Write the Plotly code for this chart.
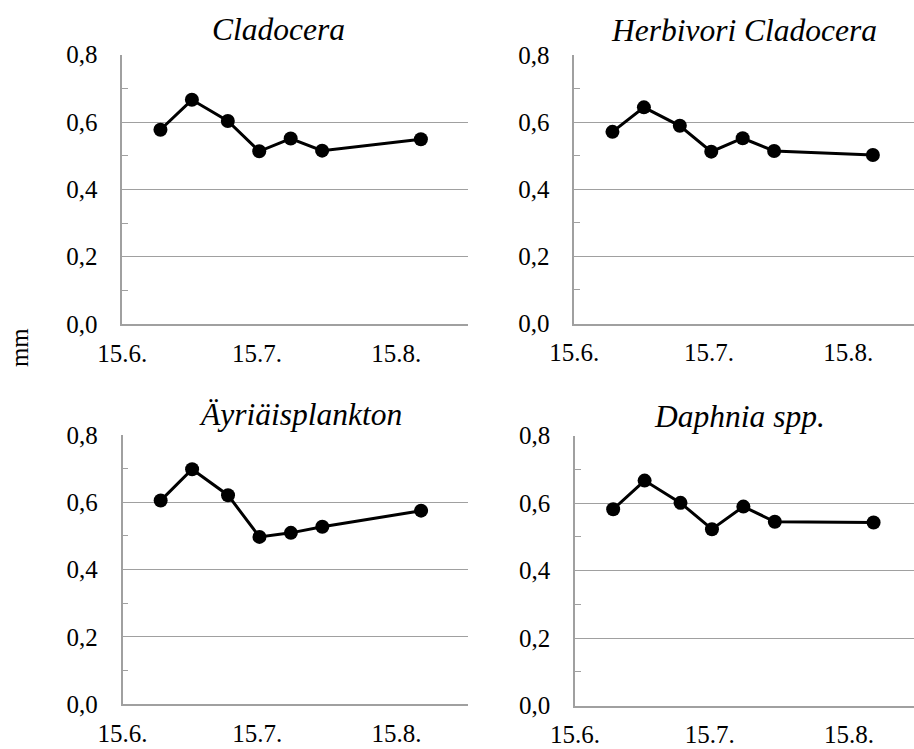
import plotly.graph_objects as go
import pandas as pd

W, H = 914, 749

# Sampling dates (points sit mid-day on the date axis)
dates = ["2011-06-23 12:00", "2011-06-30 12:00", "2011-07-08 12:00", "2011-07-15 12:00",
         "2011-07-22 12:00", "2011-07-29 12:00", "2011-08-20 12:00"]

cladocera = [0.577, 0.666, 0.603, 0.513, 0.551, 0.515, 0.549]
herbivori = [0.571, 0.644, 0.589, 0.512, 0.552, 0.514, 0.502]
ayriais = [0.605, 0.698, 0.621, 0.497, 0.509, 0.527, 0.575]
daphnia = [0.582, 0.667, 0.601, 0.523, 0.590, 0.545, 0.543]

titles = ["Cladocera", "Herbivori Cladocera", "Äyriäisplankton", "Daphnia spp."]
series = [cladocera, herbivori, ayriais, daphnia]

tick_vals = ["2011-06-15", "2011-07-15", "2011-08-15"]
tick_text = ["15.6.", "15.7.", "15.8."]
y_ticks = [0.0, 0.2, 0.4, 0.6, 0.8]

FONT = "'Liberation Serif', 'Times New Roman', 'DejaVu Serif', serif"
GRID = "#A0A0A0"

# panel pixel boxes: (left, right, top, bottom)
boxes = [(122.3, 467.7, 54.7, 324.0),
         (574.3, 914.0, 55.0, 323.5),
         (122.5, 467.7, 435.0, 704.0),
         (575.0, 914.0, 435.7, 705.7)]
title_pos = [(278.3, 29.5), (744.0, 30.0), (300.0, 414.0), (739.0, 416.0)]

PX_PER_DAY = 4.49
start = pd.Timestamp("2011-06-15")

fig = go.Figure()
for i, (vals, box) in enumerate(zip(series, boxes)):
    l, r, t, b = box
    n = i + 1
    xa = "x" if n == 1 else f"x{n}"
    ya = "y" if n == 1 else f"y{n}"
    fig.add_trace(go.Scatter(
        x=pd.to_datetime(dates), y=vals, mode="lines+markers",
        line=dict(color="black", width=3),
        marker=dict(color="black", size=14),
        xaxis=xa, yaxis=ya, showlegend=False, cliponaxis=False))
    end = start + pd.Timedelta(days=(r - l) / PX_PER_DAY)
    xkey = "xaxis" if n == 1 else f"xaxis{n}"
    ykey = "yaxis" if n == 1 else f"yaxis{n}"
    fig.layout[xkey] = dict(
        domain=[l / W, r / W], anchor=ya, type="date", automargin=False,
        range=[start, end], tickmode="array", tickvals=tick_vals, ticktext=tick_text,
        showgrid=False, zeroline=False, showline=True, linecolor=GRID, linewidth=1.5,
        ticks="", ticklabelstandoff=6,
        tickfont=dict(family=FONT, size=25, color="black"))
    fig.layout[ykey] = dict(
        domain=[1 - b / H, 1 - t / H], anchor=xa, automargin=False,
        range=[0, 0.8], tickmode="array", tickvals=y_ticks, tickformat=".1f",
        showgrid=True, gridcolor=GRID, gridwidth=1.3, zeroline=False,
        showline=True, linecolor=GRID, linewidth=1.5,
        ticks="inside", ticklen=6, tickcolor=GRID, tickwidth=1.3,
        minor=dict(dtick=0.1, tick0=0, ticks="inside", ticklen=6, tickcolor=GRID,
                   tickwidth=1.3, showgrid=False),
        ticklabelstandoff=18,
        tickfont=dict(family=FONT, size=25, color="black"))
    tx, ty = title_pos[i]
    fig.add_annotation(text=f"<i>{titles[i]}</i>", xref="paper", yref="paper",
                       x=tx / W, y=1 - ty / H, xanchor="center", yanchor="middle",
                       showarrow=False, font=dict(family=FONT, size=31.5, color="black"))

fig.add_annotation(text="mm", xref="paper", yref="paper", x=19.3 / W, y=1 - 347.8 / H,
                   xanchor="center", yanchor="middle", textangle=-90, showarrow=False,
                   font=dict(family=FONT, size=25, color="black"))

fig.update_layout(width=W, height=H, margin=dict(l=0, r=0, t=0, b=0), template="none",
                  font=dict(family=FONT, color="black"),
                  paper_bgcolor="white", plot_bgcolor="white", separators=", ")
fig.write_html("out.html", config={"displayModeBar": False},
               post_script="document.body.style.margin='0';document.body.style.padding='0';")
